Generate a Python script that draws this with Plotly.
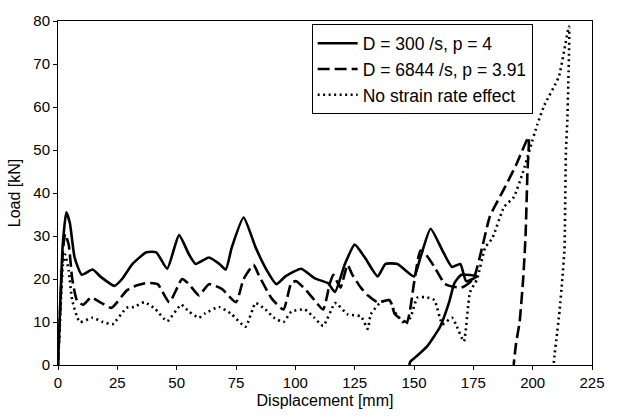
import plotly.graph_objects as go

# D = 300 /s, p = 4 (solid)
solid_x = [0, 1, 2, 3.5, 5, 7, 10, 14.6, 18, 23.8, 27, 31.4, 37.2, 41.4, 46, 51, 55.2, 58, 63.6, 68,
           70.7, 73.2, 78.2, 83.3, 88, 92, 95.8, 102.5, 108, 113.8, 116.7, 120.9, 125, 129.3, 134.7,
           138, 143, 150, 152.7, 157, 162, 166, 169.5, 172, 176.6, 170, 167, 164.8, 161, 155.6, 151,
           148.5, 148]
solid_y = [0, 15, 28, 35.5, 33, 25, 21, 22.2, 20.5, 18.4, 20, 23.5, 26.2, 26.2, 22.4, 30.2, 25.7, 23.5,
           25, 23.5, 22.2, 27.3, 34.3, 27.3, 22, 18.8, 20.6, 22.4, 20.2, 19, 17, 23.5, 28, 25, 20.6,
           23.5, 23.5, 20.6, 25, 31.7, 26.6, 22.8, 23.5, 19.5, 20.6, 21, 19, 14.6, 8.9, 4.4, 2,
           0.8, 0]

# D = 6844 /s, p = 3.91 (dashed)
dash_x = [0, 1, 2, 3, 4.5, 6, 8, 10.5, 14, 18, 22.6, 28.9, 33, 37.7, 42, 46.9, 52.3, 55.2, 59.4, 63.6,
          69, 75, 78.2, 82.4, 84.5, 90, 95, 98.3, 100.4, 104, 108, 111.7, 114.6, 116, 119, 122, 124,
          127.6, 130.5, 134.7, 139.7, 142, 147, 150, 152.7, 155, 158.6, 162.8, 165, 170, 175, 178.7,
          182, 188, 193, 198.3, 197.8, 197, 196, 194.5, 193, 192]
dash_y = [0, 14, 26, 30.5, 28, 20, 15, 14, 15.7, 14.5, 13.3, 17.3, 18.5, 19.1, 18.8, 14.6, 20, 18.8,
          16.2, 18.8, 17.7, 14.6, 20, 23.3, 21, 15.5, 12.9, 19.1, 19.5, 17.7, 15.1, 12.9, 19.1, 21,
          18, 23.3, 21, 18, 16.2, 14.6, 15.1, 11.8, 10, 19, 26.6, 25.7, 22.8, 19, 18.4, 18, 20, 27.3,
          34.6, 41, 46.5, 53, 45, 30, 20, 10, 5, 0]

# No strain rate effect (dotted)
dot_x = [0, 1, 2, 3, 4.5, 6, 9.2, 14.6, 19, 23, 28.9, 32, 36.4, 41, 46, 51.9, 55.2, 59.4, 62, 67.8,
         73.2, 79, 83.3, 87.4, 91, 95, 98.3, 104, 108, 111.7, 116.7, 118, 122, 127.6, 130.5, 131.8,
         136, 139.7, 141.8, 146.4, 148.5, 151.5, 155.6, 158.6, 162, 166, 168, 171, 173.6, 176.6,
         180, 183, 188, 192, 196, 198.7, 202, 205, 211, 215.3, 215, 214.6, 214, 213.4, 212.5,
         211.3, 210, 209.2, 208.8]
dot_y = [0, 12, 23, 25.7, 22, 15, 10, 11, 10, 9.5, 13.3, 13.5, 14.6, 13, 10.2, 14, 12.4, 11, 12, 13.5,
         11.8, 8.9, 14.4, 12.9, 11, 10, 12.4, 12.9, 11, 9.1, 14.4, 14, 11.8, 11.3, 8.4, 11.8, 14.6,
         15.1, 12.4, 9.5, 11, 15.7, 15.7, 15.1, 9.5, 11, 9, 5.5, 16.9, 20, 27.3, 29.5, 36.8, 39, 45,
         50, 56, 60.5, 67, 78.7, 65, 57, 49.4, 27, 20, 12.4, 6, 2.2, 0]

x_ticks = [0, 25, 50, 75, 100, 125, 150, 175, 200, 225]
y_ticks = [0, 10, 20, 30, 40, 50, 60, 70, 80]

FONT = "Liberation Sans, Arial, sans-serif"

fig = go.Figure()
fig.add_trace(go.Scatter(x=solid_x, y=solid_y, mode="lines", name="D = 300 /s, p = 4",
                         line=dict(color="black", width=2.6, shape="spline", smoothing=0.5)))
fig.add_trace(go.Scatter(x=dash_x, y=dash_y, mode="lines", name="D = 6844 /s, p = 3.91",
                         line=dict(color="black", width=2.6, dash="12px,5px", shape="spline", smoothing=0.5)))
fig.add_trace(go.Scatter(x=dot_x, y=dot_y, mode="lines", name="No strain rate effect",
                         line=dict(color="black", width=2.6, dash="2px,3.5px", shape="spline", smoothing=0.5)))

axis_common = dict(showline=True, linecolor="black", linewidth=1, mirror=True, showgrid=False,
                   zeroline=False, ticks="outside", ticklen=4, tickcolor="black",
                   tickfont=dict(family=FONT, size=15, color="black"))

fig.update_layout(
    width=617, height=418,
    margin=dict(l=58, r=22, t=12, b=45),
    paper_bgcolor="white", plot_bgcolor="white",
    font=dict(family=FONT, color="black"),
    xaxis=dict(range=[0, 225], tickvals=x_ticks,
               title=dict(text="Displacement [mm]", font=dict(family=FONT, size=16), standoff=4),
               **axis_common),
    yaxis=dict(range=[0, 80], tickvals=y_ticks,
               title=dict(text="Load [kN]", font=dict(family=FONT, size=16), standoff=8),
               **axis_common),
    legend=dict(x=0.475, y=0.99, xanchor="left", yanchor="top", bgcolor="white",
                bordercolor="black", borderwidth=1, font=dict(family=FONT, size=17.5, color="black"),
                tracegroupgap=0, itemwidth=40),
    showlegend=True,
)

fig.write_html("out.html")
